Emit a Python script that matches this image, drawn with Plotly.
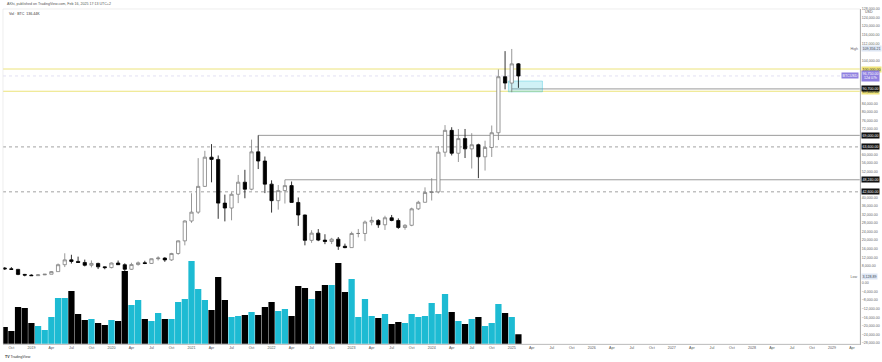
import plotly.graph_objects as go
import pandas as pd

# ---------------- data (monthly BTCUSD, Sep 2018 -> Feb 2025) ----------------
start_month = "2018-09"
axis_end_month = "2029-06"

opens = [7010, 6630, 6370, 4020, 3690, 3430, 3810, 4100, 5320, 8560, 10820, 10090,
         9600, 8300, 9150, 7550, 7200, 9350, 8550, 6420, 8630, 9450, 9140, 11350,
         11650, 10780, 13800, 19700, 28990, 33110, 45150, 58800, 57750, 37330, 35040, 41460,
         47100, 43820, 61300, 57000, 46200, 38480, 43180, 45510, 37640, 31790, 19930, 23310,
         20050, 19430, 20490, 17170, 16540, 23140, 23150, 28480, 29250, 27220, 30480, 29230,
         25940, 26970, 34660, 37720, 42280, 42580, 61130, 71330, 60640, 67490, 62680, 64620,
         58970, 63330, 70220, 96400, 93430, 102400]
highs = [7410, 7450, 6600, 4250, 4080, 4200, 4140, 5600, 9100, 13880, 13200, 12330,
         10950, 10540, 9500, 7750, 9580, 10500, 9190, 9470, 10070, 10390, 11450, 12470,
         12070, 14100, 19900, 29300, 41950, 58350, 61780, 64900, 59600, 41300, 42400, 50500,
         52900, 67000, 69000, 59100, 47990, 45800, 48200, 47440, 39990, 31990, 24670, 25200,
         22800, 21100, 21480, 18400, 23960, 25250, 29200, 31000, 29820, 31430, 31800, 30200,
         27480, 35200, 38420, 44700, 48970, 64000, 73800, 72800, 71950, 71980, 70000, 65100,
         66500, 73600, 99800, 108350, 109356, 102750]
lows = [6110, 6200, 3650, 3128, 3350, 3370, 3700, 4080, 5320, 7450, 9100, 9350,
        7750, 7300, 6520, 6430, 6850, 8450, 3850, 6150, 8120, 8830, 8980, 10530,
        9880, 10370, 13200, 17600, 28130, 32300, 44950, 47040, 30000, 28800, 29300, 37330,
        39600, 43300, 53250, 42000, 32900, 34300, 37150, 37700, 26700, 17600, 18780, 19550,
        18150, 18200, 15480, 16260, 16500, 21350, 19570, 26950, 25800, 24800, 28860, 25300,
        24900, 26550, 34100, 37600, 38550, 41880, 59000, 59600, 56550, 58400, 53500, 49000,
        52550, 58900, 66800, 90500, 89164, 91200]
closes = [6630, 6370, 4020, 3690, 3430, 3810, 4100, 5320, 8560, 10820, 10090, 9600,
          8300, 9150, 7550, 7200, 9350, 8550, 6420, 8630, 9450, 9140, 11350, 11650,
          10780, 13800, 19700, 28990, 33110, 45150, 58800, 57750, 37330, 35040, 41460, 47100,
          43820, 61300, 57000, 46200, 38480, 43180, 45510, 37640, 31790, 19930, 23310, 20050,
          19430, 20490, 17170, 16540, 23140, 23150, 28480, 29250, 27220, 30480, 29230, 25940,
          26970, 34660, 37720, 42280, 42580, 61130, 71330, 60640, 67490, 62680, 64620, 58970,
          63330, 70220, 96400, 93430, 102400, 96750]
volumes = [238000, 182000, 518000, 504000, 294000, 252000, 196000, 378000, 644000, 644000, 742000, 420000,
           336000, 350000, 294000, 266000, 336000, 322000, 1022000, 546000, 616000, 350000, 322000, 434000,
           350000, 350000, 588000, 630000, 1162000, 770000, 616000, 476000, 938000, 616000, 378000, 392000,
           406000, 448000, 406000, 518000, 588000, 462000, 490000, 392000, 812000, 784000, 630000, 742000,
           826000, 826000, 1134000, 728000, 910000, 378000, 630000, 392000, 364000, 420000, 280000, 308000,
           294000, 420000, 378000, 392000, 574000, 420000, 700000, 448000, 322000, 280000, 350000, 378000,
           252000, 294000, 560000, 434000, 378000, 136440]

# drawn levels
yellow_levels = [100000, 89600]
ray_levels = [69000, 48240, 90700]          # horizontal rays
ray_start_months = ["2021-11", "2022-03", "2025-01"]
dotted_levels = [63600, 42600]
current_price = 96750
box_months = ["2025-01", "2025-06"]
box_prices = [89300, 94400]
all_time_high = 109356.21
all_time_low = 3128.89

price_range = [-28500, 128040]
price_step = 4000

# ---------------- helpers ----------------
months = pd.period_range(start_month, axis_end_month, freq="M")
idx = {str(m): i for i, m in enumerate(months)}
n = len(opens)
x = list(range(n))

tickvals, ticktext = [], []
for i, m in enumerate(months):
    if m.month == 1:
        tickvals.append(i); ticktext.append(str(m.year))
    elif m.month in (4, 7, 10):
        tickvals.append(i); ticktext.append(m.strftime("%b"))

# price ticks, hiding those hidden behind the coloured price tags (as TradingView does)
tag_prices = yellow_levels + ray_levels + dotted_levels + [current_price, all_time_high, all_time_low]
ptick = []
v = -28000
while v <= price_range[1]:
    if all(abs(v - t) > 1900 for t in tag_prices) and not (v > current_price and v - current_price < 3200):
        ptick.append(v)
    v += price_step

CYAN = "#1dbbd3"
vol_colors = [CYAN if c >= o else "#000000" for o, c in zip(opens, closes)]

FONT = "Liberation Sans, Arial, sans-serif"

fig = go.Figure()
fig.add_trace(go.Bar(x=x, y=volumes, marker=dict(color=vol_colors, line=dict(width=0)),
                     yaxis="y", hoverinfo="skip", showlegend=False))
fig.add_trace(go.Candlestick(
    x=x, open=opens, high=highs, low=lows, close=closes, yaxis="y2",
    increasing=dict(line=dict(color="#7d7d7d", width=0.8), fillcolor="#ffffff"),
    decreasing=dict(line=dict(color="#000000", width=0.8), fillcolor="#000000"),
    whiskerwidth=0, showlegend=False))

shapes = []
for lv in yellow_levels:
    shapes.append(dict(type="line", xref="paper", x0=0, x1=1, yref="y2", y0=lv, y1=lv,
                       line=dict(color="#ece37a", width=1), layer="below"))
for lv, sm in zip(ray_levels, ray_start_months):
    shapes.append(dict(type="line", xref="x", x0=idx[sm], x1=months.size + 5, yref="y2", y0=lv, y1=lv,
                       line=dict(color="#9a9a9a", width=1), layer="below"))
for lv in dotted_levels:
    shapes.append(dict(type="line", xref="paper", x0=0, x1=1, yref="y2", y0=lv, y1=lv,
                       line=dict(color="#8a8a8a", width=0.8, dash="dot"), layer="below"))
shapes.append(dict(type="line", xref="paper", x0=0, x1=1, yref="y2", y0=current_price, y1=current_price,
                   line=dict(color="#d6d2ee", width=0.7, dash="dot"), layer="below"))
shapes.append(dict(type="rect", xref="x", x0=idx[box_months[0]] - 0.5, x1=idx[box_months[1]] - 0.4,
                   yref="y2", y0=box_prices[0], y1=box_prices[1],
                   fillcolor="rgba(40,190,215,0.22)", line=dict(color="rgba(40,190,215,0.6)", width=0.6),
                   layer="below"))
# chart frame
shapes.append(dict(type="rect", xref="paper", yref="paper", x0=0, x1=1.0, y0=0, y1=1,
                   line=dict(color="#e3e3e3", width=0.6)))

annotations = []


def tag(price, text, bg, fg="#ffffff"):
    annotations.append(dict(xref="paper", x=1, xanchor="left", xshift=1, yref="y2", y=price,
                            yanchor="middle", text=text, showarrow=False, bgcolor=bg,
                            font=dict(size=3.6, color=fg, family=FONT), borderpad=0.5))


tag(yellow_levels[0], f"{yellow_levels[0]:,.2f}", "#efe47a", "#222222")
tag(yellow_levels[1], f"{yellow_levels[1]:,.2f}", "#efe47a", "#222222")
for lv in ray_levels + dotted_levels:
    tag(lv, f"{lv:,.2f}", "#111111")
tag(current_price, f"{current_price:,.2f}<br>12d 07h", "#8f80e0")
tag(all_time_high, f"{all_time_high:,.2f}", "#dde6f3", "#445")
tag(all_time_low, f"{all_time_low:,.2f}", "#dde6f3", "#445")

for price, txt, bg, fg in [(all_time_high, "High", "rgba(0,0,0,0)", "#666"),
                           (all_time_low, "Low", "rgba(0,0,0,0)", "#666"),
                           (current_price, "BTCUSD", "#8f80e0", "#ffffff")]:
    annotations.append(dict(xref="paper", x=1, xanchor="right", xshift=-1, yref="y2", y=price,
                            yanchor="middle", text=txt, showarrow=False, bgcolor=bg,
                            font=dict(size=3.6, color=fg, family=FONT), borderpad=0.5))

annotations.append(dict(xref="paper", x=1, xanchor="left", xshift=3, yref="paper", y=1, yanchor="bottom",
                        yshift=-7, text="USD", showarrow=False, font=dict(size=3.6, color="#555", family=FONT)))
annotations.append(dict(xref="paper", x=0, xanchor="left", xshift=2, yref="paper", y=1, yanchor="bottom",
                        yshift=1, text="AKhi, published on TradingView.com, Feb 16, 2025 17:13 UTC+2",
                        showarrow=False, font=dict(size=3.6, color="#555", family=FONT)))
annotations.append(dict(xref="paper", x=0, xanchor="left", xshift=4, yref="paper", y=1, yanchor="top",
                        yshift=-1, text="Vol · BTC  136.44K",
                        showarrow=False, font=dict(size=3.6, color="#333", family=FONT)))
annotations.append(dict(xref="paper", x=0, xanchor="left", xshift=0, yref="paper", y=0, yanchor="top",
                        yshift=-9, text="<b>TV</b> TradingView",
                        showarrow=False, font=dict(size=3.6, color="#333", family=FONT)))

fig.update_layout(
    width=882, height=362,
    margin=dict(l=3, r=22, t=9, b=18),
    paper_bgcolor="#ffffff", plot_bgcolor="#ffffff",
    bargap=0.06,
    showlegend=False,
    font=dict(family=FONT, size=3.6, color="#555"),
    xaxis=dict(range=[-0.255, 128.2], tickvals=tickvals, ticktext=ticktext, showgrid=False,
               zeroline=False, showline=True, linecolor="#b5b5b5", linewidth=1, ticks="",
               tickfont=dict(size=3.6, color="#555"), rangeslider=dict(visible=False), fixedrange=True),
    yaxis=dict(range=[0, 4690000], visible=False, fixedrange=True),
    yaxis2=dict(overlaying="y", side="right", range=price_range, tickvals=ptick,
                tickformat=",.2f", showgrid=False, zeroline=False, showline=True, linecolor="#9a9a9a",
                linewidth=1, ticks="", tickfont=dict(size=3.6, color="#666"), fixedrange=True),
    shapes=shapes, annotations=annotations,
)

fig.write_html("out.html", config={"displayModeBar": False},
               post_script="document.body.style.margin='0';document.body.style.padding='0';")
